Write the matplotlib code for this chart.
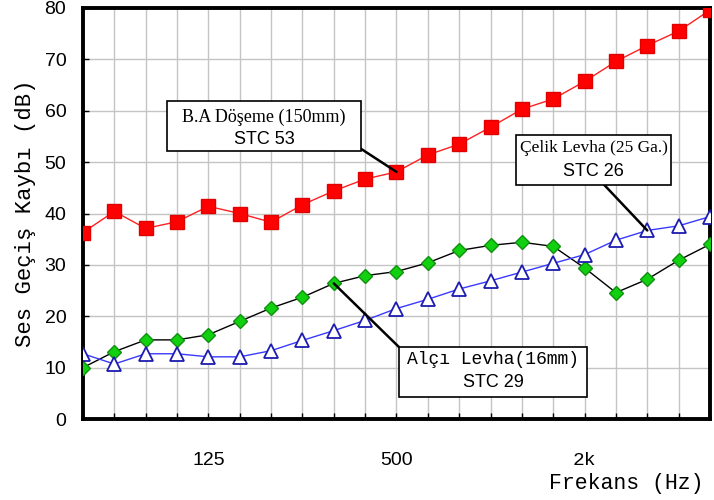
import numpy as np
import matplotlib
matplotlib.use("Agg")
import matplotlib.pyplot as plt
from matplotlib.patches import Rectangle

# 1/3 octave band centres, 50 Hz .. 5 kHz
freqs = [50, 63, 80, 100, 125, 160, 200, 250, 315, 400, 500, 630, 800,
         1000, 1250, 1600, 2000, 2500, 3150, 4000, 5000]
tick_labels = {125: "125", 500: "500", 2000: "2k"}

# transmission loss (dB)
ba_doseme = [36.3, 40.4, 37.1, 38.4, 41.4, 40.0, 38.3, 41.7, 44.4, 46.7,
             48.1, 51.4, 53.5, 56.8, 60.3, 62.3, 65.7, 69.6, 72.7, 75.5, 79.6]
alci_levha = [10.0, 13.1, 15.4, 15.4, 16.4, 19.0, 21.6, 23.7, 26.4, 27.9,
              28.7, 30.4, 32.8, 33.8, 34.4, 33.6, 29.4, 24.6, 27.2, 30.9, 34.0]
celik_levha = [12.7, 10.7, 12.7, 12.7, 12.1, 12.1, 13.3, 15.3, 17.2, 19.2,
               21.5, 23.3, 25.3, 26.9, 28.6, 30.3, 32.0, 34.8, 36.7, 37.6, 39.4]

SANS = ["Liberation Sans", "DejaVu Sans"]
MONO = ["Liberation Mono", "DejaVu Sans Mono"]
SERIF = ["Liberation Serif", "DejaVu Serif"]

x = np.arange(len(freqs))

fig = plt.figure(figsize=(7.14, 5.0), dpi=100)
ax = fig.add_axes([0.1162, 0.162, 0.8782, 0.822])

ax.plot(x, ba_doseme, color="#ff2020", lw=1, marker="s", ms=10,
        mfc="#ff0000", mec="#e00000", zorder=4)
ax.plot(x, alci_levha, color="black", lw=1, marker="D", ms=7.5,
        mfc="#10d010", mec="#109010", zorder=4)
ax.plot(x, celik_levha, color="#3a3aff", lw=1, marker="^", ms=10.5,
        mfc="white", mec="#1c1cb0", mew=1.3, zorder=4)

ax.set_xlim(0, len(freqs) - 1)
ax.set_ylim(0, 80)
ax.set_xticks(x)
ax.set_xticklabels([tick_labels.get(f, "") for f in freqs])
ax.set_yticks(np.arange(0, 81, 10))
ax.tick_params(axis="both", direction="in", length=4, width=1)
ax.tick_params(axis="x", pad=24, labelsize=14)
ax.tick_params(axis="y", pad=12, labelsize=14)
for lab in ax.get_xticklabels() + ax.get_yticklabels():
    lab.set_fontfamily(SANS)
for lab in ax.get_xticklabels():
    if lab.get_text() == "2k":
        lab.set_fontfamily(MONO)

ax.grid(True, color="#c4c4c4", lw=1)
ax.set_axisbelow(True)
for s in ax.spines.values():
    s.set_linewidth(2.8)
    s.set_color("black")

ax.set_ylabel("Ses Geçiş Kaybı (dB)", family=MONO, fontsize=16, labelpad=6)
fig.text(0.985, 0.012, "Frekans (Hz)", family=MONO, fontsize=15.5,
         ha="right", va="bottom")


def label_box(x0, y0, x1, y1, line1, font1, size1, line2, y_l1, y_l2,
              anchor, target):
    ax.add_patch(Rectangle((x0, y0), x1 - x0, y1 - y0, transform=ax.transAxes,
                           fc="white", ec="black", lw=1.2, zorder=6))
    cx = (x0 + x1) / 2
    ax.text(cx, y_l1, line1, transform=ax.transAxes, ha="center", va="center",
            family=font1, fontsize=size1, zorder=7)
    ax.text(cx, y_l2, line2, transform=ax.transAxes, ha="center", va="center",
            family=SANS, fontsize=13, zorder=7)
    ax.annotate("", xy=target, xycoords="data", xytext=anchor,
                textcoords="axes fraction",
                arrowprops=dict(arrowstyle="-", color="black", lw=1.8,
                                shrinkA=0, shrinkB=0), zorder=5)


label_box(0.134, 0.652, 0.4434, 0.774, "B.A Döşeme (150mm)", SERIF, 13,
          "STC 53", 0.735, 0.679, (0.4418, 0.659), (10, ba_doseme[10]))
label_box(0.6906, 0.5693, 0.9378, 0.691, "Çelik Levha (25 Ga.)", SERIF, 12.5,
          "STC 26", 0.659, 0.601, (0.8134, 0.5985), (18, celik_levha[18]))
label_box(0.504, 0.0535, 0.8038, 0.175, "Alçı Levha(16mm)", MONO, 13,
          "STC 29", 0.1436, 0.0876, (0.504, 0.175), (8, alci_levha[8]))

fig.savefig("out.png", dpi=100, facecolor="white")
